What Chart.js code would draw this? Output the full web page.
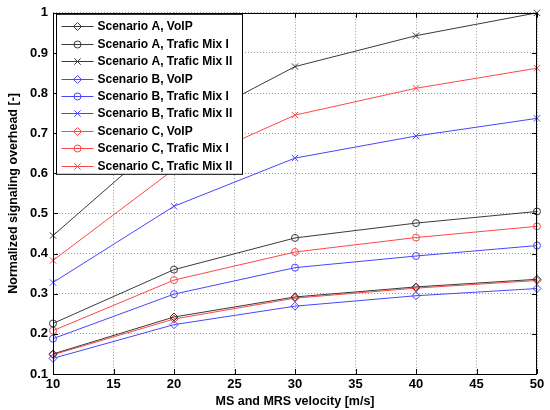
<!DOCTYPE html>
<html>
<head>
<meta charset="utf-8">
<script src="https://cdn.jsdelivr.net/npm/chart.js@4.4.0/dist/chart.umd.min.js"></script>
<style>
  html, body { margin: 0; padding: 0; background: #fff; }
  #caixa { width: 550px; height: 410px; }
</style>
</head>
<body>
<div id="caixa"><canvas id="linhas"></canvas></div>
<script>
//DADOS
const velocidades = [10, 20, 30, 40, 50];
const nomes = [
  'Scenario A, VoIP', 'Scenario A, Trafic Mix I', 'Scenario A, Trafic Mix II',
  'Scenario B, VoIP', 'Scenario B, Trafic Mix I', 'Scenario B, Trafic Mix II',
  'Scenario C, VoIP', 'Scenario C, Trafic Mix I', 'Scenario C, Trafic Mix II'
];
const aVoip = [0.150, 0.242, 0.292, 0.317, 0.336];
const aMix1 = [0.226, 0.360, 0.439, 0.476, 0.505];
const aMix2 = [0.445, 0.708, 0.866, 0.943, 1.000];
const bVoip = [0.139, 0.223, 0.269, 0.295, 0.313];
const bMix1 = [0.188, 0.299, 0.365, 0.394, 0.420];
const bMix2 = [0.328, 0.518, 0.638, 0.693, 0.737];
const cVoip = [0.148, 0.237, 0.289, 0.314, 0.333];
const cMix1 = [0.208, 0.334, 0.404, 0.440, 0.468];
const cMix2 = [0.383, 0.610, 0.745, 0.812, 0.862];

const series = [aVoip, aMix1, aMix2, bVoip, bMix1, bMix2, cVoip, cMix1, cMix2];
const cores = ['#3a3a3a', '#3a3a3a', '#3a3a3a', '#4646ff', '#4646ff', '#4646ff', '#ff4646', '#ff4646', '#ff4646'];
const marcadores = ['rectRot', 'circle', 'crossRot'];
const raios = { rectRot: 4, circle: 3.5, crossRot: 4.5 };

const fonte = 'Liberation Sans, Arial, sans-serif';

function desenhaMarcador(ctx, estilo, x, y, r) {
  ctx.beginPath();
  if (estilo === 'circle') {
    ctx.arc(x, y, r, 0, 2 * Math.PI);
  } else if (estilo === 'rectRot') {
    ctx.moveTo(x, y - r); ctx.lineTo(x + r, y); ctx.lineTo(x, y + r); ctx.lineTo(x - r, y); ctx.closePath();
  } else {
    const d = r * Math.SQRT1_2;
    ctx.moveTo(x - d, y - d); ctx.lineTo(x + d, y + d);
    ctx.moveTo(x - d, y + d); ctx.lineTo(x + d, y - d);
  }
  ctx.stroke();
}

//CAIXA, TICKS INTERNOS E LEGENDA
const molduraLegenda = {
  id: 'molduraLegenda',
  afterDraw(chart) {
    const ctx = chart.ctx;
    const a = chart.chartArea;
    const sx = chart.scales.x, sy = chart.scales.y;
    ctx.save();
    ctx.strokeStyle = '#000';
    ctx.lineWidth = 1;
    ctx.strokeRect(Math.round(a.left) + 0.5, Math.round(a.top) + 0.5,
      Math.round(a.right - a.left) - 1, Math.round(a.bottom - a.top));
    ctx.beginPath();
    sx.ticks.forEach(t => {
      const px = Math.round(sx.getPixelForValue(t.value)) + 0.5;
      ctx.moveTo(px, a.bottom); ctx.lineTo(px, a.bottom - 5);
      ctx.moveTo(px, a.top); ctx.lineTo(px, a.top + 5);
    });
    sy.ticks.forEach(t => {
      const py = Math.round(sy.getPixelForValue(t.value)) + 0.5;
      ctx.moveTo(a.left, py); ctx.lineTo(a.left + 5, py);
      ctx.moveTo(a.right, py); ctx.lineTo(a.right - 5, py);
    });
    ctx.stroke();

    // legenda
    const lx = a.left + 3.5, ly = a.top + 1.5, lw = 186, lh = 160;
    ctx.fillStyle = '#fff';
    ctx.fillRect(lx, ly, lw, lh);
    ctx.strokeStyle = '#000';
    ctx.strokeRect(lx, ly, lw, lh);
    ctx.font = 'bold 12px ' + fonte;
    ctx.textBaseline = 'middle';
    chart.data.datasets.forEach((ds, i) => {
      const y = Math.round(ly + 12 + i * 17.4) + 0.5;
      ctx.strokeStyle = ds.borderColor;
      ctx.beginPath();
      ctx.moveTo(lx + 5, y); ctx.lineTo(lx + 37, y);
      ctx.stroke();
      desenhaMarcador(ctx, ds.pointStyle, lx + 21, y, ds.pointRadius);
      ctx.fillStyle = '#000';
      ctx.fillText(ds.label, lx + 41, y);
    });
    ctx.restore();
  }
};

//GRÁFICO DE LINHAS
const conjuntos = series.map((valores, i) => {
  const estilo = marcadores[i % 3];
  return {
    label: nomes[i],
    data: valores,
    borderColor: cores[i],
    borderWidth: 1,
    pointStyle: estilo,
    pointRadius: raios[estilo],
    pointBorderColor: cores[i],
    pointBackgroundColor: 'rgba(0,0,0,0)',
    pointBorderWidth: 1,
    tension: 0,
    clip: false
  };
});

const ctx = document.getElementById('linhas').getContext('2d');
const grafico = new Chart(ctx, {
  type: 'line',
  data: {
    labels: velocidades,
    datasets: conjuntos
  },
  options: {
    responsive: true,
    maintainAspectRatio: false,
    animation: false,
    layout: { padding: { top: 11, right: 13, bottom: 0, left: 0 } },
    plugins: {
      legend: { display: false },
      tooltip: { enabled: false }
    },
    scales: {
      x: {
        type: 'linear',
        min: 10,
        max: 50,
        ticks: { stepSize: 5, color: '#000', padding: 3, font: { family: fonte, size: 13, weight: 'bold' } },
        grid: { color: '#9a9a9a', drawTicks: false },
        border: { display: false, dash: [1, 2] },
        title: {
          display: true,
          text: 'MS and MRS velocity [m/s]',
          color: '#000',
          padding: { top: 1, bottom: 1 },
          font: { family: fonte, size: 12.5, weight: 'bold' }
        },
        afterFit: s => { s.height = 36; }
      },
      y: {
        min: 0.1,
        max: 1,
        ticks: {
          stepSize: 0.1,
          color: '#000',
          padding: 5,
          font: { family: fonte, size: 13, weight: 'bold' },
          callback: v => String(Math.round(v * 10) / 10)
        },
        grid: { color: '#9a9a9a', drawTicks: false },
        border: { display: false, dash: [1, 2] },
        title: {
          display: true,
          text: 'Normalized signaling overhead [-]',
          color: '#000',
          padding: { top: 6, bottom: 0 },
          font: { family: fonte, size: 12.5, weight: 'bold' }
        },
        afterFit: s => { s.width = 53; }
      }
    }
  },
  plugins: [molduraLegenda]
});
</script>
</body>
</html>
